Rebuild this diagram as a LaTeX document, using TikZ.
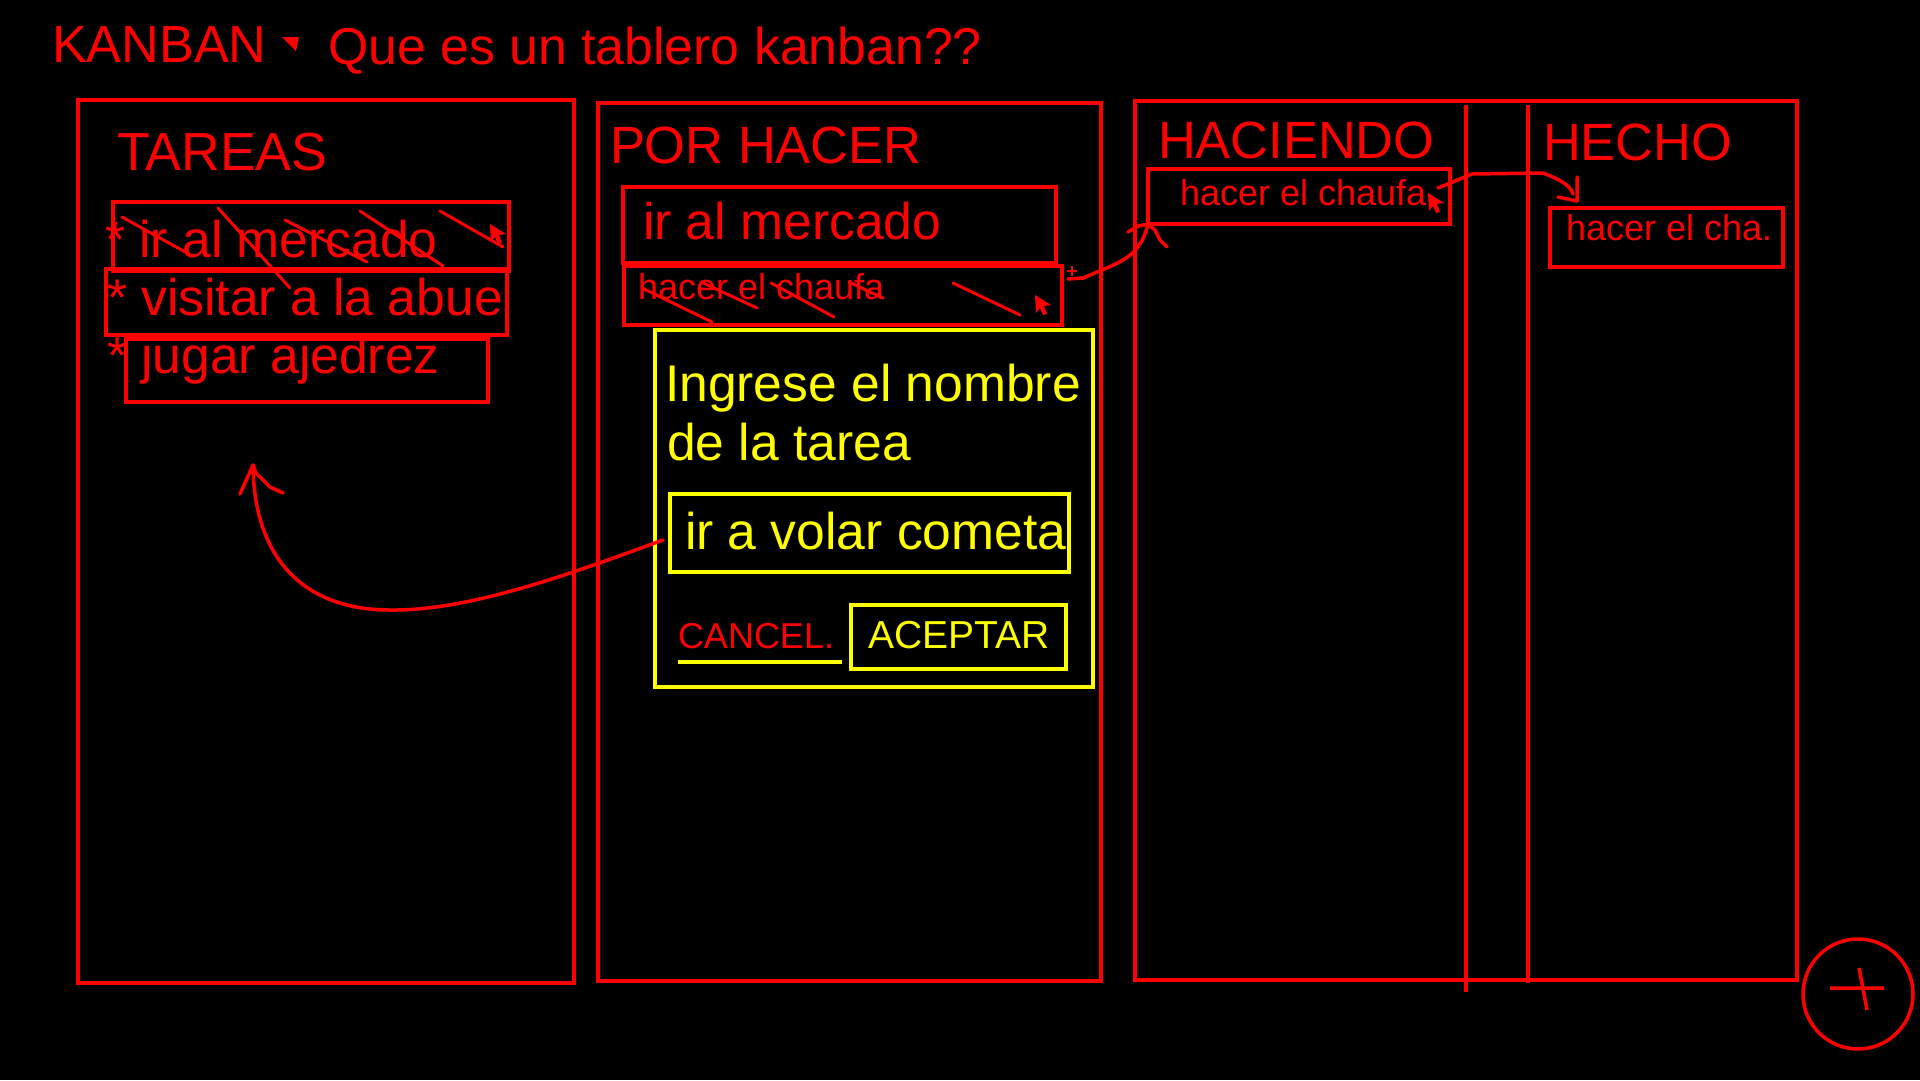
\documentclass[tikz,border=0pt]{standalone}
\usepackage{fontspec}
\setmainfont{Liberation Sans}
\usetikzlibrary{fit}
\definecolor{pr}{RGB}{255,0,0}
\definecolor{py}{RGB}{255,255,0}
\tikzset{
  rbox/.style={draw=pr, line width=3.5pt, inner sep=0pt, outer sep=0pt, rectangle},
  ybox/.style={draw=py, line width=3.5pt, inner sep=0pt, outer sep=0pt, rectangle},
  txt/.style={anchor=base west, inner sep=0pt, outer sep=0pt, text=pr},
  ytxt/.style={txt, text=py},
  fbig/.style={font=\fontsize{51.6}{51.6}\selectfont},
  fhead/.style={font=\fontsize{52.2}{52.2}\selectfont},
  fquest/.style={font=\fontsize{51.8}{51.8}\selectfont},
  ftitle/.style={font=\fontsize{52.4}{52.4}\selectfont},
  ftareas/.style={font=\fontsize{53.6}{53.6}\selectfont},
  fsmall/.style={font=\fontsize{36}{36}\selectfont},
  fbtn/.style={font=\fontsize{39}{39}\selectfont},
  stroke/.style={draw=pr, line width=3pt, line cap=round, line join=round},
  curve/.style={draw=pr, line width=3.5pt, line cap=round, line join=round},
  cursor/.pic={\fill[pr] (0,0) -- (16,10) -- (9,11) -- (12,19) -- (8,20) -- (5,13) -- (1,18) -- cycle;}
}
\begin{document}
\begin{tikzpicture}[x=1pt,y=-1pt]
\useasboundingbox (0,0) rectangle (1920,1080);
\fill[black] (0,0) rectangle (1920,1080);

% header
\node[txt, fhead] (kanban) at (52,62) {KANBAN};
\fill[pr] (282,37) -- (299,37) -- (296,51) -- cycle;
\node[txt, fquest] (question) at (328,64) {Que es un tablero kanban??};

% columns
\node[rbox, fit={(78,100) (574,983)}] (col1) {};
\node[rbox, fit={(598,103) (1101,981)}] (col2) {};
\node[rbox, fit={(1135,101) (1797,980)}] (col3) {};
\coordinate (d1top) at (1466,105); \coordinate (d1bot) at (1466,992);
\coordinate (d2top) at (1528,105); \coordinate (d2bot) at (1528,983);
\draw[draw=pr, line width=3.5pt] (d1top) -- (d1bot);
\draw[draw=pr, line width=3.5pt] (d2top) -- (d2bot);

% titles
\node[txt, ftareas] (tareas) at (117,170) {TAREAS};
\node[txt, ftitle] (porhacer) at (610,163) {POR HACER};
\node[txt, ftitle] (haciendo) at (1158,158) {HACIENDO};
\node[txt, ftitle] (hecho) at (1543,160) {HECHO};

% TAREAS list
\node[rbox, fit={(113,202) (509,271)}] (b1) {};
\node[rbox, fit={(106,269) (507,335)}] (b2) {};
\node[rbox, fit={(126,339) (488,402)}] (b3) {};
\node[txt, fbig] (t1) at (105,257) {* ir al mercado};
\node[txt, fbig] (t2) at (107,315) {* visitar a la abue};
\node[txt, fbig] (t3) at (107,373) {* jugar ajedrez};
\draw[stroke] (122,217) -- (187,253);
\draw[stroke] (218,208) -- (290,288);
\draw[stroke] (285,220) -- (367,262);
\draw[stroke] (360,211) -- (443,266);
\draw[stroke] (440,211) -- (503,247);
\pic at (490,224) {cursor};

% POR HACER list
\node[rbox, fit={(623,187) (1056,263)}] (b4) {};
\draw[draw=pr, line width=3pt] (b4.south west) -- (b4.south east);
\node[txt, fbig] (t4) at (643,239) {ir al mercado};
\node[rbox, fit={(624,266) (1062,325)}] (b5) {};
\node[txt, fsmall] (t5) at (638,299) {hacer el chaufa};
\draw[stroke] (642,288) -- (712,322);
\draw[stroke] (701,282) -- (757,308);
\draw[stroke] (771,283) -- (834,317);
\draw[stroke] (849,282) -- (883,298);
\draw[stroke] (953,283) -- (1020,315);
\pic at (1035,295) {cursor};
\node[inner sep=0pt] (plus1) at (1072,271) {};
\draw[draw=pr, line width=2pt] (1067,271) -- (1077,271) (1072,266) -- (1072,276);

% dialog
\node[ybox, fit={(655,330) (1093,687)}] (dialog) {};
\node[ytxt, fbig] (ing1) at (665,401) {Ingrese el nombre};
\node[ytxt, fbig] (ing2) at (667,460) {de la tarea};
\node[ybox, fit={(670,494) (1069,572)}] (inp) {};
\node[ytxt, fbig] (inptxt) at (685,549) {ir a volar cometa};
\node[txt, fsmall] (cancel) at (678,648) {CANCEL.};
\coordinate (ul1) at (678,662); \coordinate (ul2) at (842,662);
\draw[draw=py, line width=3.5pt] (ul1) -- (ul2);
\node[ybox, fit={(851,605) (1066,669)}] (acept) {};
\node[ytxt, fbtn] (acepttxt) at (868,648) {ACEPTAR};

% HACIENDO / HECHO
\node[rbox, fit={(1148,169) (1450,224)}] (b6) {};
\node[txt, fsmall] (t6) at (1180,205) {hacer el chaufa};
\pic at (1428,193) {cursor};
\node[rbox, fit={(1550,208) (1783,267)}] (b7) {};
\node[txt, fsmall] (t7) at (1566,240) {hacer el cha.};

% connectors
\coordinate (a1s) at (663,540);
\coordinate (a1m) at (390,610);
\coordinate (a1e) at (253,465);
\draw[curve] (a1s) .. controls (570,574) and (470,611) .. (a1m)
                   .. controls (310,610) and (254,565) .. (a1e);
\draw[curve] (240,494) -- (a1e) -- (256,473) -- (270,487) -- (283,493);

\coordinate (a2s) at (1068,279);
\coordinate (a2e) at (b6.south west);
\draw[curve] (a2s) -- (1083,278) .. controls (1120,262) and (1140,258) .. (a2e);
\draw[curve] (1128,232) -- (1138,226) -- (a2e) -- (1155,230) -- (1160,240) -- (1167,247);

\coordinate (a3s) at (1438,188);
\coordinate (a3e) at (1577,201);
\draw[curve] (a3s) -- (1472,174) -- (1543,173) .. controls (1556,178) and (1570,184) .. (1573,194);
\draw[curve] (1577,177) -- (a3e) -- (1558,197);

% add button
\node[draw=pr, line width=3.5pt, circle, minimum size=110pt, inner sep=0pt] (addbtn) at (1858,994) {};
\draw[draw=pr, line width=3.5pt] (1830,988) -- (1884,988) (1859,968) -- (1867,1010);
\end{tikzpicture}
\end{document}
